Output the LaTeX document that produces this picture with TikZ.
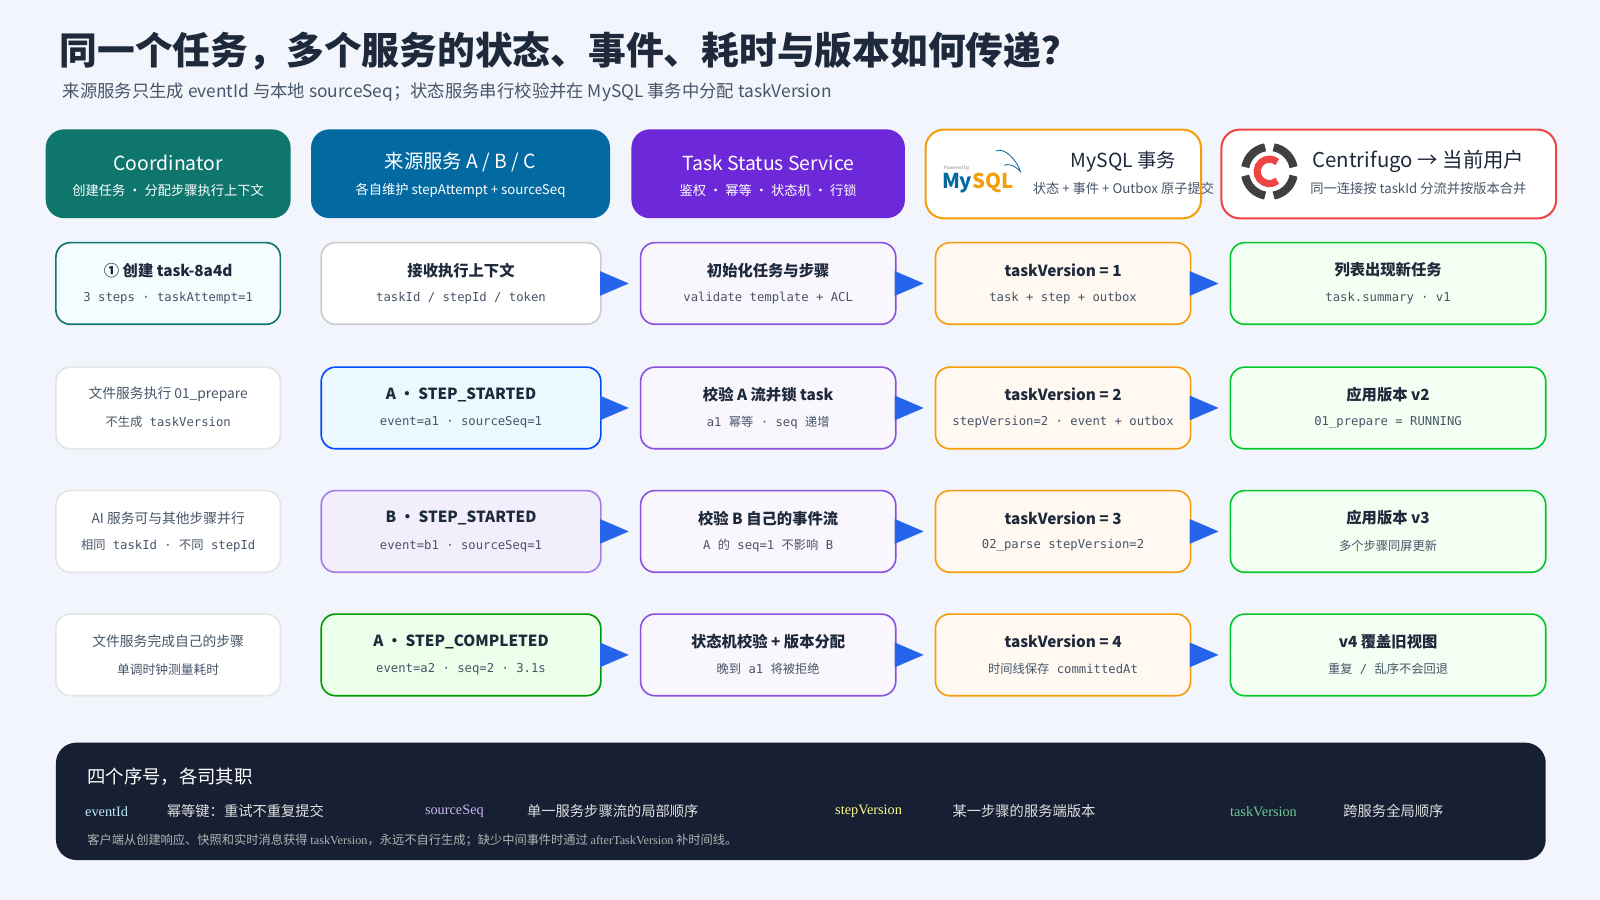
\documentclass[tikz,border=0pt]{standalone}
\usepackage{fontspec}
\setmainfont{Noto Sans CJK SC}
\newfontfamily\mono{DejaVu Sans Mono}
\newfontfamily\zh{Noto Sans CJK SC}
\newfontfamily\serif{Liberation Serif}
\usetikzlibrary{arrows.meta}
\definecolor{bg}{HTML}{F2F5FC}
\definecolor{ink}{HTML}{1E293B}
\definecolor{sub}{HTML}{475569}
\definecolor{teal}{HTML}{0F766E}
\definecolor{ocean}{HTML}{0369A1}
\definecolor{violet}{HTML}{6D28D9}
\definecolor{amber}{HTML}{F59E0B}
\definecolor{redc}{HTML}{EF4444}
\definecolor{arrowblue}{HTML}{2563EB}
\definecolor{navy}{HTML}{172033}
\tikzset{
  x=1pt,y=-1pt,
  box/.style={rounded corners=14pt,line width=1.6pt,anchor=north west,inner sep=0pt},
  hdr/.style={box,rounded corners=18pt,draw=none},
  c1a/.style={box,draw=teal,fill=cyan!4},
  c1/.style={box,draw=gray!20,fill=white},
  c2a/.style={box,draw=gray!40,fill=white},
  c2b/.style={box,draw=blue!70!cyan,fill=cyan!8},
  c2c/.style={box,draw=violet!60,fill=violet!8},
  c2d/.style={box,draw=green!60!black,fill=green!8},
  c3/.style={box,draw=violet!80,fill=violet!4},
  c4/.style={box,draw=amber,fill=orange!5},
  c5/.style={box,draw=green!60!teal,fill=green!5},
  ttl/.style={text=ink,font=\fontsize{15}{18}\selectfont\bfseries},
  st/.style={text=sub,font=\fontsize{12}{14}\selectfont\mono},
  arr/.style={line width=0.1pt,arrowblue,shorten >=11pt,-{Triangle[length=28pt,width=24pt]}},
}
\newcommand\bx[8]{%
 \node[#6,minimum width={(#4-#2)*1pt},minimum height={(#5-#3)*1pt}] (#1) at (#2,#3) {};
 \node[ttl] at ([yshift=13pt]#1.center) {#7};
 \node[st] at ([yshift=-14pt]#1.center) {#8};}
\newcommand\zhs[1]{{\zh #1}}
\begin{document}
\begin{tikzpicture}
\fill[bg] (0,0) rectangle (1568,882);
\useasboundingbox (0,0) rectangle (1568,882);
\node[anchor=west,text=ink,font=\fontsize{37}{42}\selectfont\bfseries] (title) at (55,50) {同一个任务，多个服务的状态、事件、耗时与版本如何传递？};
\node[anchor=west,text=sub,font=\fontsize{17}{20}\selectfont] (subt) at (58,90) {来源服务只生成 eventId 与本地 sourceSeq；状态服务串行校验并在 MySQL 事务中分配 taskVersion};
% headers
\node[hdr,fill=teal,minimum width=240pt,minimum height=87pt] (h1) at (44,126) {};
\node[text=white,font=\fontsize{19}{22}\selectfont] at ([yshift=11pt]h1.center) {Coordinator};
\node[text=white,font=\fontsize{13}{16}\selectfont] at ([yshift=-16pt]h1.center) {创建任务 · 分配步骤执行上下文};
\node[hdr,fill=ocean,minimum width=293pt,minimum height=87pt] (h2) at (304,126) {};
\node[text=white,font=\fontsize{19}{22}\selectfont] at ([yshift=11pt]h2.center) {来源服务 A / B / C};
\node[text=white,font=\fontsize{13}{16}\selectfont] at ([yshift=-16pt]h2.center) {各自维护 stepAttempt + sourceSeq};
\node[hdr,fill=violet,minimum width=268pt,minimum height=87pt] (h3) at (618,126) {};
\node[text=white,font=\fontsize{19}{22}\selectfont] at ([yshift=11pt]h3.center) {Task Status Service};
\node[text=white,font=\fontsize{13}{16}\selectfont] at ([yshift=-16pt]h3.center) {鉴权 · 幂等 · 状态机 · 行锁};
\node[hdr,draw=amber,line width=2pt,fill=white,minimum width=270pt,minimum height=87pt] (h4) at (906,126) {};
\node[text=ink,font=\fontsize{19}{22}\selectfont] at (1101,158) {MySQL 事务};
\node[text=sub,font=\fontsize{13}{16}\selectfont] at (1101,185) {状态 + 事件 + Outbox 原子提交};
\node[font=\fontsize{4.5}{5}\selectfont,text=gray,anchor=west,inner sep=0pt] at (925,165) {Powered by};
\node[font=\fontsize{20}{22}\selectfont\bfseries,anchor=west,inner sep=0pt] at (923,179) {\textcolor{ocean}{My}\textcolor{amber}{SQL}};
\draw[ocean,line width=0.8pt] (976,148) .. controls (984,144) and (996,156) .. (1000,168) .. controls (994,162) and (988,160) .. (984,162);
\node[hdr,draw=redc,line width=2pt,fill=white,minimum width=328pt,minimum height=87pt] (h5) at (1196,126) {};
\node[text=ink,font=\fontsize{20}{22}\selectfont] at (1390,158) {Centrifugo → 当前用户};
\node[text=sub,font=\fontsize{13}{16}\selectfont] at (1390,185) {同一连接按 taskId 分流并按版本合并};
\foreach \a in {10,100,190,280} \draw[black!75,line width=8pt] (1244,168) ++(\a:24) arc[start angle=\a,end angle=\a+70,radius=24];
\draw[redc,line width=7pt] (1244,168) ++(50:12) arc[start angle=50,end angle=310,radius=12];
% rows
\bx{a1}{54}{237}{274}{317}{c1a}{① 创建 task-8a4d}{3 steps · taskAttempt=1}
\bx{b1}{314}{237}{588}{317}{c2a}{接收执行上下文}{taskId / stepId / token}
\bx{c1}{627}{237}{877}{317}{c3}{初始化任务与步骤}{validate template + ACL}
\bx{d1}{916}{237}{1166}{317}{c4}{taskVersion = 1}{task + step + outbox}
\bx{e1}{1205}{237}{1514}{317}{c5}{列表出现新任务}{task.summary · v1}

\node[c1,minimum width=220pt,minimum height=80pt] (a2) at (54,359) {};
\node[text=sub,font=\fontsize{13.5}{16}\selectfont] at ([yshift=13pt]a2.center) {文件服务执行 01\_prepare};
\node[st] at ([yshift=-14pt]a2.center) {\zhs{不生成} taskVersion};
\bx{b2}{314}{359}{588}{439}{c2b}{A · STEP\_STARTED}{event=a1 · sourceSeq=1}
\bx{c2}{627}{359}{877}{439}{c3}{校验 A 流并锁 task}{a1 \zhs{幂等} · seq \zhs{递增}}
\bx{d2}{916}{359}{1166}{439}{c4}{taskVersion = 2}{stepVersion=2 · event + outbox}
\bx{e2}{1205}{359}{1514}{439}{c5}{应用版本 v2}{01\_prepare = RUNNING}

\node[c1,minimum width=220pt,minimum height=80pt] (a3) at (54,480) {};
\node[text=sub,font=\fontsize{13.5}{16}\selectfont] at ([yshift=13pt]a3.center) {AI 服务可与其他步骤并行};
\node[st] at ([yshift=-14pt]a3.center) {\zhs{相同} taskId · \zhs{不同} stepId};
\bx{b3}{314}{480}{588}{560}{c2c}{B · STEP\_STARTED}{event=b1 · sourceSeq=1}
\bx{c3}{627}{480}{877}{560}{c3}{校验 B 自己的事件流}{A \zhs{的} seq=1 \zhs{不影响} B}
\bx{d3}{916}{480}{1166}{560}{c4}{taskVersion = 3}{02\_parse stepVersion=2}
\bx{e3}{1205}{480}{1514}{560}{c5}{应用版本 v3}{\zhs{多个步骤同屏更新}}

\node[c1,minimum width=220pt,minimum height=80pt] (a4) at (54,601) {};
\node[text=sub,font=\fontsize{13.5}{16}\selectfont] at ([yshift=13pt]a4.center) {文件服务完成自己的步骤};
\node[text=sub,font=\fontsize{12.5}{15}\selectfont] at ([yshift=-14pt]a4.center) {单调时钟测量耗时};
\bx{b4}{314}{601}{588}{681}{c2d}{A · STEP\_COMPLETED}{event=a2 · seq=2 · 3.1s}
\bx{c4}{627}{601}{877}{681}{c3}{状态机校验 + 版本分配}{\zhs{晚到} a1 \zhs{将被拒绝}}
\bx{d4}{916}{601}{1166}{681}{c4}{taskVersion = 4}{\zhs{时间线保存} committedAt}
\bx{e4}{1205}{601}{1514}{681}{c5}{v4 覆盖旧视图}{\zhs{重复} / \zhs{乱序不会回退}}

\foreach \r in {1,2,3,4}{
  \draw[arr] (b\r.east) -- (c\r.west);
  \draw[arr] (c\r.east) -- (d\r.west);
  \draw[arr] (d\r.east) -- (e\r.west);
}
% bottom panel
\node[box,draw=none,fill=navy,rounded corners=20pt,minimum width=1460pt,minimum height=115pt] (panel) at (54,727) {};
\node[anchor=west,text=white,font=\fontsize{18}{22}\selectfont] at (82,761) {四个序号，各司其职};
\begin{scope}[every node/.style={anchor=west,font=\fontsize{14}{17}\selectfont}]
\node[text=cyan!25] at (80,795) {\serif eventId};
\node[text=gray!25] at (160,795) {幂等键：重试不重复提交};
\node[text=violet!35] at (413,795) {\serif sourceSeq};
\node[text=gray!25] at (513,795) {单一服务步骤流的局部顺序};
\node[text=yellow!45] at (815,795) {\serif stepVersion};
\node[text=gray!25] at (930,795) {某一步骤的服务端版本};
\node[text=green!35!teal!60] at (1202,795) {\serif taskVersion};
\node[text=gray!25] at (1313,795) {跨服务全局顺序};
\node[text=gray!60,font=\fontsize{12}{14}\selectfont] at (82,823) {客户端从创建响应、快照和实时消息获得 {\serif taskVersion}，永远不自行生成；缺少中间事件时通过 {\serif afterTaskVersion} 补时间线。};
\end{scope}
\end{tikzpicture}
\end{document}
